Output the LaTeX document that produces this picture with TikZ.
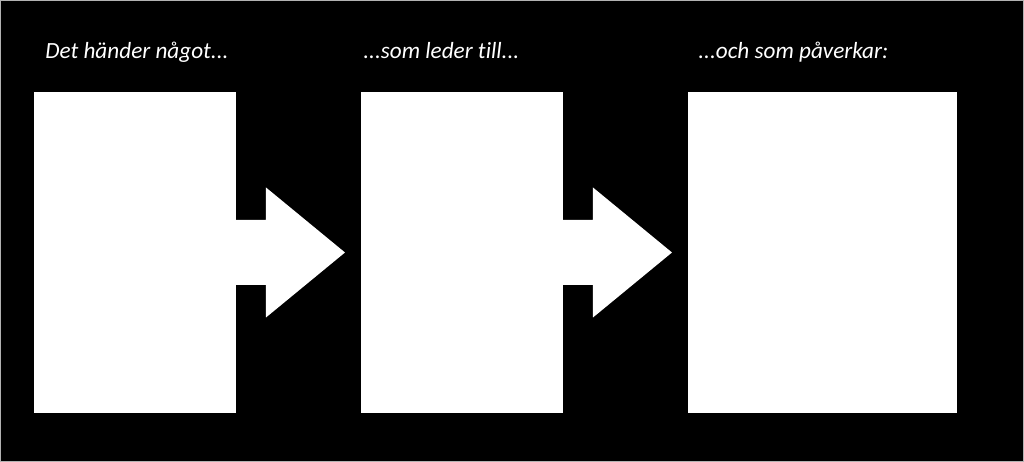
\documentclass[tikz,border=0pt]{standalone}
\usepackage{fontspec}
\setmainfont{Carlito}[Ligatures=NoCommon]
\begin{document}
\begin{tikzpicture}[x=0.02cm, y=0.02cm,
  box/.style={fill=white, draw=none, inner sep=0pt, outer sep=0pt, minimum height=6.42cm},
  label/.style={text=white, font=\itshape\fontsize{13.2}{15}\selectfont, anchor=base west, inner sep=0pt}]
{\centering
\useasboundingbox (0, 0) rectangle (1024, 462);
\fill[black] (0, 0) rectangle (1024, 462);
\draw[gray!60, line width=0.5pt] (0.5, 0.5) rectangle (1023.5, 461.5);

\node (hander) [box, minimum width=4.04cm] at (135, 209.5) {};
\node (leder) [box, minimum width=4.04cm] at (462, 209.5) {};
\node (paverkar) [box, minimum width=5.38cm] at (822.5, 209.5) {};

\node (t1) [label] at (45, 403) {Det händer något...};
\node (t2) [label] at (363, 403) {...som leder till...};
\node (t3) [label] at (698, 403) {...och som påverkar:};

\fill[white] (hander.east) ++(0, 32.5) -- ++(30, 0) -- ++(0, 32.5) -- ++(79, -65) -- ++(-79, -65) -- ++(0, 32.5) -- ++(-30, 0) -- cycle;
\fill[white] (leder.east) ++(0, 32.5) -- ++(30, 0) -- ++(0, 32.5) -- ++(79, -65) -- ++(-79, -65) -- ++(0, 32.5) -- ++(-30, 0) -- cycle;
}
\end{tikzpicture}
\end{document}
